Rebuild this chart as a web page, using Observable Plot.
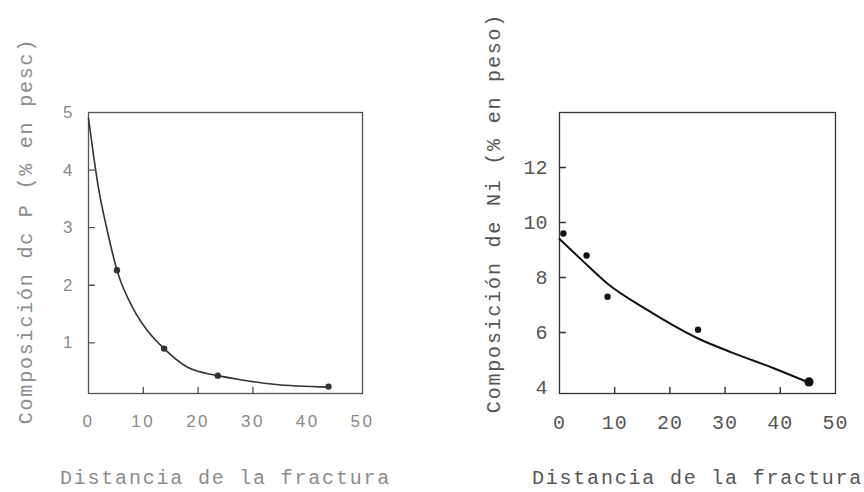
<!DOCTYPE html>
<html><head><meta charset="utf-8">
<script src="https://cdn.jsdelivr.net/npm/d3@7"></script>
<script src="https://cdn.jsdelivr.net/npm/@observablehq/plot@0.6"></script>
<style>
body{margin:0;background:#fff;}
#wrap{display:flex;width:864px;height:492px;overflow:hidden;}
</style></head><body><div id="wrap"></div>
<script>
// ---- Panel P (left) ----
const pPointDist = [5.2, 13.8, 23.6, 43.8];
const pPointComp = [2.26, 0.90, 0.43, 0.24];
const pCurveDist = [0, 1.0, 1.8, 3.4, 5.2, 8.3, 10.7, 13.8, 18, 23.6, 27.7, 33.8, 43.8];
const pCurveComp = [4.9, 4.2, 3.7, 2.96, 2.26, 1.57, 1.22, 0.90, 0.58, 0.43, 0.36, 0.28, 0.23];
const pYTicks = [1, 2, 3, 4, 5];
const pXTicks = [0, 10, 20, 30, 40, 50];
const pYTitle = "Composición dc P (% en pesc)";

// ---- Panel Ni (right) ----
const niPointDist = [0.7, 4.9, 8.7, 25.1, 45.2];
const niPointComp = [9.6, 8.8, 7.3, 6.1, 4.2];
const niCurveDist = [0, 4, 8.6, 15.9, 25.1, 31.5, 38.8, 44.9];
const niCurveComp = [9.4, 8.64, 7.79, 6.82, 5.78, 5.25, 4.7, 4.2];
const niYTicks = [4, 6, 8, 10, 12];
const niXTicks = [0, 10, 20, 30, 40, 50];
const niYTitle = "Composición de Ni (% en peso)";

const xTitle = "Distancia de la fractura";
const xDomain = [0, 50];

const W = 432, H = 492, MT = 112, MB = 99;

function build(o, tickShape) {
  const pts = o.px.map((x, i) => ({x, y: o.py[i]}));
  const crv = o.cx.map((x, i) => ({x, y: o.cy[i]}));
  const fmt = d => String(d);
  const marks = [
    Plot.frame({stroke: o.frameColor, strokeWidth: 1.3}),
    Plot.axisY({ticks: o.yTicks, tickSize: 0, tickPadding: o.yPad, label: null, tickFormat: fmt,
      fontFamily: o.tickFont, fontSize: o.tickSize, fill: o.tickColor}),
    Plot.axisX({ticks: o.xTicks, tickSize: 0, tickPadding: 21, label: null, tickFormat: fmt,
      fontFamily: o.tickFont, fontSize: o.tickSize, fill: o.tickColor}),
    // inward tick marks on the left and bottom edges of the frame
    Plot.vector(o.yInTicks, {x: () => xDomain[0], y: d => d, rotate: 90, anchor: "start", length: 6,
      shape: tickShape, r: 0.8, stroke: o.frameColor, fill: o.frameColor, strokeWidth: 1.4}),
    Plot.vector(o.xInTicks, {x: d => d, y: () => o.yDomain[0], rotate: 0, anchor: "start", length: 6,
      shape: tickShape, r: 0.8, stroke: o.frameColor, fill: o.frameColor, strokeWidth: 1.4}),
    Plot.line(crv, {x: "x", y: "y", curve: "monotone-x", stroke: o.lineColor, strokeWidth: o.lineWidth}),
    Plot.dot(o.bigLast ? pts.slice(0, -1) : pts, {x: "x", y: "y", r: 3.2, fill: o.lineColor}),
    Plot.text([o.yTitle], {frameAnchor: "left", textAnchor: "middle", rotate: -90, dx: o.ytdx, dy: o.ytdy,
      fontFamily: "Liberation Mono", fontSize: 20, fill: o.titleColor}),
    Plot.text([xTitle], {frameAnchor: "bottom", textAnchor: "middle", dy: 90,
      fontFamily: "Liberation Mono", fontSize: 20, fill: o.titleColor})
  ];
  if (o.bigLast) marks.push(Plot.dot(pts.slice(-1), {x: "x", y: "y", r: 4.6, fill: o.lineColor}));
  return Plot.plot({
    width: W, height: H,
    marginLeft: o.ml, marginRight: o.mr, marginTop: MT, marginBottom: MB,
    x: {domain: xDomain},
    y: {domain: o.yDomain},
    style: {background: "white", overflow: "visible"},
    marks
  });
}

function panel(o) {
  let svg;
  const lineShape = {draw(context, l) { context.moveTo(0, 0); context.lineTo(0, -l); }};
  try { svg = build(o, lineShape); } catch (e) { svg = build(o, "spike"); }
  svg.querySelectorAll('g[aria-label="text"] text').forEach(t => t.setAttribute("letter-spacing", "1.8"));
  svg.querySelectorAll('g[aria-label="x-axis tick label"] text').forEach(t => t.setAttribute("letter-spacing", o.tickLs));
  return svg;
}

const wrap = document.getElementById("wrap");
wrap.appendChild(panel({
  px: pPointDist, py: pPointComp, cx: pCurveDist, cy: pCurveComp,
  yTicks: pYTicks, xTicks: pXTicks, yTitle: pYTitle,
  yInTicks: [1, 2, 3, 4], xInTicks: [10, 20, 30],
  yDomain: [0.12, 5], ml: 88, mr: 70, yPad: 16,
  ytdx: -63, ytdy: -22,
  tickFont: "Liberation Sans", tickSize: 17, tickColor: "#8a8a8a", tickLs: "2.5",
  frameColor: "#555", lineColor: "#333", lineWidth: 1.6, titleColor: "#8c8c8c", bigLast: false
}));
wrap.appendChild(panel({
  px: niPointDist, py: niPointComp, cx: niCurveDist, cy: niCurveComp,
  yTicks: niYTicks, xTicks: niXTicks, yTitle: niYTitle,
  yInTicks: [6, 8, 10, 12], xInTicks: [10, 20, 30, 40],
  yDomain: [3.78, 14], ml: 127, mr: 29, yPad: 12,
  ytdx: -66, ytdy: -40,
  tickFont: "Liberation Mono", tickSize: 20, tickColor: "#555", tickLs: "1",
  frameColor: "#333", lineColor: "#111", lineWidth: 2, titleColor: "#555", bigLast: true
}));
</script></body></html>
